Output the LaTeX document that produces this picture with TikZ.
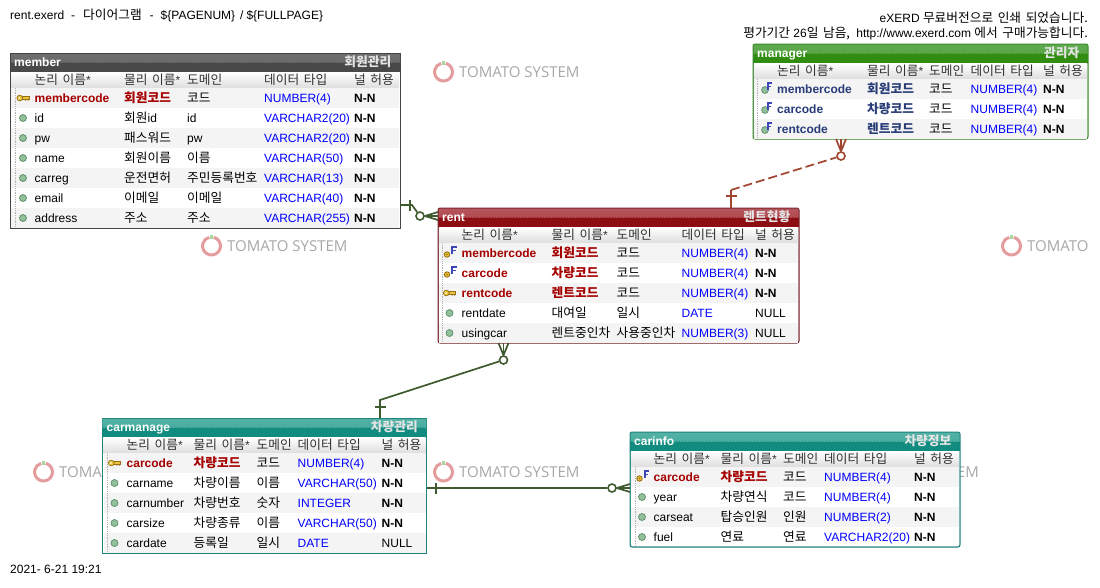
\documentclass[tikz,border=0pt]{standalone}
\usepackage{fontspec}
\setmainfont{Liberation Sans}
\newfontfamily\krfont[Scale=1.06,WordSpace=1.6]{Noto Sans CJK KR}
\newfontfamily\wmfont{Open Sans}
\usetikzlibrary{patterns}
\definecolor{memline}{RGB}{68, 68, 68}
\definecolor{memtop}{RGB}{112, 112, 112}
\definecolor{membot}{RGB}{70, 70, 70}
\definecolor{memhatch}{RGB}{80, 80, 80}
\definecolor{mgrline}{RGB}{60, 138, 46}
\definecolor{mgrtop}{RGB}{96, 170, 80}
\definecolor{mgrbot}{RGB}{44, 138, 12}
\definecolor{mgrhatch}{RGB}{60, 148, 30}
\definecolor{rntline}{RGB}{122, 42, 48}
\definecolor{rnttop}{RGB}{182, 86, 92}
\definecolor{rntbot}{RGB}{138, 8, 14}
\definecolor{rnthatch}{RGB}{150, 26, 32}
\definecolor{carline}{RGB}{30, 132, 124}
\definecolor{cartop}{RGB}{84, 178, 166}
\definecolor{carbot}{RGB}{12, 136, 124}
\definecolor{carhatch}{RGB}{32, 148, 136}
\definecolor{pkred}{RGB}{165, 0, 0}
\definecolor{fknavy}{RGB}{40, 60, 120}
\definecolor{headgray}{RGB}{50, 50, 50}
\definecolor{rowgray}{RGB}{244, 244, 244}
\definecolor{relgreen}{RGB}{64, 90, 48}
\definecolor{relbrown}{RGB}{160, 68, 46}
\definecolor{keygold}{RGB}{236, 196, 60}
\definecolor{keydark}{RGB}{150, 110, 20}
\definecolor{dotgreen}{RGB}{146, 192, 154}
\definecolor{dotdark}{RGB}{100, 146, 112}
\definecolor{fkblue}{RGB}{60, 70, 180}
\definecolor{wmring}{RGB}{228, 156, 156}
\definecolor{wmgreen}{RGB}{170, 214, 160}
\definecolor{wmtext}{RGB}{168, 168, 168}
\newcommand{\kr}[1]{{\krfont #1}}
\newcommand{\notnull}{\textbf{N-N}}
\tikzset{
    tablebox/.style={fill=white, line width=1pt, inner sep=0, outer sep=0, anchor=north west},
    erdtext/.style={font=\fontsize{12}{14}\selectfont, inner sep=0, anchor=base west},
    plainname/.style={erdtext},
    pkname/.style={erdtext, font=\fontsize{12}{14}\selectfont\bfseries, text=pkred},
    fkname/.style={erdtext, font=\fontsize{12}{14}\selectfont\bfseries, text=fknavy},
    headtext/.style={erdtext, text=headgray},
    typetext/.style={erdtext, text=blue},
    titletext/.style={erdtext, font=\fontsize{12}{14}\selectfont\bfseries, text=white},
    subtitle/.style={erdtext, anchor=base east, font=\fontsize{12}{14}\selectfont\bfseries, text=white!80!gray},
    wmarktext/.style={inner sep=0, anchor=west, font=\wmfont\fontsize{15}{18}\selectfont, text=wmtext},
    relline/.style={line width=1.7pt, relgreen},
    relweak/.style={line width=1.7pt, relbrown},
    relzero/.style={circle, fill=white, line width=1.6pt, minimum size=8pt, inner sep=0},
    relone/.style={rectangle, fill, minimum width=1.6pt, minimum height=11pt, inner sep=0},
}
% x and y are the pixels of the sheet, y runs downwards
\newcommand{\keyicon}[2]{
    \begin{scope}[shift={(#1,#2)}]
        \fill[keydark] (2,1) rectangle (3,2.6) (4.5,1) rectangle (5.5,2.6);
        \draw[keydark, fill=keygold, line width=.6pt] (-1,-1.5) rectangle (6,1.2);
        \draw[keydark, fill=keygold, line width=.7pt] (-3.2,0) ellipse (2.9 and 2.8);
        \fill[white] (-3.6,0) circle (.9);
    \end{scope}
}
\newcommand{\doticon}[2]{
    \draw[dotdark, fill=dotgreen, line width=.8pt] (#1,#2) circle (3.5);
}
\newcommand{\flag}{
    \draw[fkblue, line width=1.8pt] (2.6,1) -- (2.6,-5.8) -- (7,-5.8) (2.6,-2.6) -- (6,-2.6);
}
\newcommand{\fkicon}[2]{
    \begin{scope}[shift={(#1,#2)}]
        \draw[dotdark, fill=dotgreen, line width=.8pt] (0,1) circle (3.4);
        \flag
    \end{scope}
}
\newcommand{\pkfkicon}[2]{
    \begin{scope}[shift={(#1,#2)}]
        \draw[keydark, fill=keygold, line width=.9pt] (-2.5,1.5) circle (2.7);
        \fill[keydark] (-2.5,1.5) circle (.8);
        \flag
    \end{scope}
}
% name, left, top, right, bottom, colour prefix, title, subtitle, corner
\newcommand{\erdtable}[9]{
    \def\tabname{#1}
    \def\tableft{#2}
    \def\tabtop{#3}
    \def\tabright{#4}
    \def\tabbot{#5}
    \node[tablebox, draw=#6line, rounded corners=#9pt, minimum width=#4-#2, minimum height=#5-#3] (#1) at (#2,#3) {};
    \begin{scope}
        \clip[rounded corners=#9pt] (#1.north west) rectangle (#1.south east);
        \shade[top color=#6top, bottom color=#6top!85!#6bot] (#2,#3) rectangle (#4,#3+9.5);
        \fill[#6bot] (#2,#3+9.5) rectangle (#4,#3+19);
        \fill[pattern=north east lines, pattern color=#6hatch] (#2,#3+9.5) rectangle (#4,#3+19);
        \draw[#6line, line width=1pt, rounded corners=#9pt] (#1.north west) rectangle (#1.south east);
    \end{scope}
    \node[titletext] (#1-title) at (#2+4,#3+13.5) {#7};
    \node[subtitle] (#1-sub) at (#4-8.5,#3+13.5) {#8};
}
% name, icon x, dots x, then the five columns
\newcommand{\erdcols}[8]{
    \def\colicon{#2}
    \def\coldot{#3}
    \def\colA{#4}
    \def\colB{#5}
    \def\colC{#6}
    \def\colD{#7}
    \def\colE{#8}
    \shade[top color=white, bottom color=black!13] (\tableft+1,\tabtop+19) rectangle (\tabright-1,\tabtop+35);
    \node[headtext] (#1-hlog) at (#4,\tabtop+31.5) {\kr{논리 이름}*};
    \node[headtext] (#1-hphy) at (#5,\tabtop+31.5) {\kr{물리 이름}*};
    \node[headtext] (#1-hdom) at (#6,\tabtop+31.5) {\kr{도메인}};
    \node[headtext] (#1-htyp) at (#7,\tabtop+31.5) {\kr{데이터 타입}};
    \node[headtext] (#1-hnul) at (#8,\tabtop+31.5) {\kr{널 허용}};
}
% row number, icon, style, then the five cells
\newcommand{\erdrow}[8]{
    \pgfmathsetmacro{\rowtop}{\tabtop+35+20*(#1-1)}
    \ifodd#1
        \fill[rowgray] (\tableft+1,\rowtop) rectangle (\tabright-1,\rowtop+20);
    \fi
    \draw[black!30, densely dotted, line width=.8pt] (\coldot,\rowtop) -- (\coldot,\rowtop+19.5);
    #2{\colicon}{\rowtop+10}
    \node[#3] (\tabname-#1-log) at (\colA,\rowtop+14) {#4};
    \node[#3] (\tabname-#1-phy) at (\colB,\rowtop+14) {#5};
    \node[erdtext] (\tabname-#1-dom) at (\colC,\rowtop+14) {#6};
    \node[typetext] (\tabname-#1-typ) at (\colD,\rowtop+14) {#7};
    \node[erdtext] (\tabname-#1-nul) at (\colE,\rowtop+14) {#8};
}
% name, left, middle, text
\newcommand{\wmark}[4]{
    \draw[wmring, line width=3pt] (#2+10.5,#3) ++(-75:9) arc (-75:255:9);
    \fill[wmgreen] (#2+9,#3-11) rectangle (#2+12,#3-7.5);
    \node[wmarktext] (#1) at (#2+26,#3) {#4};
}
\begin{document}
\begin{tikzpicture}[x=1pt, y=-1pt]
    \useasboundingbox (0,0) rectangle (1100,587);
    \fill[white] (0,0) rectangle (1100,587);

    % watermarks
    \wmark{wmtop}{433}{72}{TOMATO SYSTEM}
    \wmark{wmleft}{201}{246}{TOMATO SYSTEM}
    \wmark{wmright}{1001}{246}{TOMATO}
    \wmark{wmlow}{33}{472}{TOMA}
    \wmark{wmmid}{433}{472}{TOMATO SYSTEM}
    \node[wmarktext, anchor=east] (wmend) at (979,472) {EM};

    \node[erdtext] (pagehead) at (10,19.5) {rent.exerd\hspace{7pt}-\hspace{8pt}\kr{다이어그램}\hspace{8pt}-\hspace{7pt}\$\{PAGENUM\}\hspace{5pt}/\hspace{3pt}\$\{FULLPAGE\}};
    \node[erdtext, anchor=base east] (notice) at (1088,22) {eXERD \kr{무료버전으로 인쇄 되었습니다.}};
    \node[erdtext, anchor=base east] (trial) at (1088,37) {\kr{평가기간} 26\kr{일 남음,}\hspace{3pt} http://www.exerd.com \kr{에서 구매가능합니다.}};
    \node[erdtext] (stamp) at (10,573) {2021- 6-21 19:21};

    % member
    \erdtable{member}{10}{53}{400}{228}{mem}{member}{\kr{회원관리}}{0}
    \erdcols{member}{23}{15.5}{34.5}{124}{187}{264}{354}
    \foreach \n/\ic/\st/\lg/\ph/\dm/\tp/\nl in {
        1/\keyicon/pkname/membercode/\kr{회원코드}/\kr{코드}/NUMBER(4)/\notnull,
        2/\doticon/plainname/id/\kr{회원}id/id/VARCHAR2(20)/\notnull,
        3/\doticon/plainname/pw/\kr{패스워드}/pw/VARCHAR2(20)/\notnull,
        4/\doticon/plainname/name/\kr{회원이름}/\kr{이름}/VARCHAR(50)/\notnull,
        5/\doticon/plainname/carreg/\kr{운전면허}/\kr{주민등록번호}/VARCHAR(13)/\notnull,
        6/\doticon/plainname/email/\kr{이메일}/\kr{이메일}/VARCHAR(40)/\notnull,
        7/\doticon/plainname/address/\kr{주소}/\kr{주소}/VARCHAR(255)/\notnull}
        {\erdrow{\n}{\ic}{\st}{\lg}{\ph}{\dm}{\tp}{\nl}}

    % manager
    \erdtable{manager}{753}{44}{1088}{139}{mgr}{manager}{\kr{관리자}}{2}
    \erdcols{manager}{765}{757.5}{777}{867}{929}{970.5}{1043}
    \foreach \n/\ic/\st/\lg/\ph/\dm/\tp/\nl in {
        1/\fkicon/fkname/membercode/\kr{회원코드}/\kr{코드}/NUMBER(4)/\notnull,
        2/\fkicon/fkname/carcode/\kr{차량코드}/\kr{코드}/NUMBER(4)/\notnull,
        3/\fkicon/fkname/rentcode/\kr{렌트코드}/\kr{코드}/NUMBER(4)/\notnull}
        {\erdrow{\n}{\ic}{\st}{\lg}{\ph}{\dm}{\tp}{\nl}}

    % rent
    \erdtable{rent}{438}{208}{799}{343}{rnt}{rent}{\kr{렌트현황}}{2}
    \erdcols{rent}{449.5}{442.5}{461.5}{551.5}{616.5}{681.5}{755}
    \foreach \n/\ic/\st/\lg/\ph/\dm/\tp/\nl in {
        1/\pkfkicon/pkname/membercode/\kr{회원코드}/\kr{코드}/NUMBER(4)/\notnull,
        2/\pkfkicon/pkname/carcode/\kr{차량코드}/\kr{코드}/NUMBER(4)/\notnull,
        3/\keyicon/pkname/rentcode/\kr{렌트코드}/\kr{코드}/NUMBER(4)/\notnull,
        4/\doticon/plainname/rentdate/\kr{대여일}/\kr{일시}/DATE/NULL,
        5/\doticon/plainname/usingcar/\kr{렌트중인차}/\kr{사용중인차}/NUMBER(3)/NULL}
        {\erdrow{\n}{\ic}{\st}{\lg}{\ph}{\dm}{\tp}{\nl}}

    % carmanage
    \erdtable{carmanage}{102.5}{418}{426.5}{553}{car}{carmanage}{\kr{차량관리}}{0}
    \erdcols{carmanage}{114.5}{107.5}{126.5}{193.5}{256.5}{297.5}{381.5}
    \foreach \n/\ic/\st/\lg/\ph/\dm/\tp/\nl in {
        1/\keyicon/pkname/carcode/\kr{차량코드}/\kr{코드}/NUMBER(4)/\notnull,
        2/\doticon/plainname/carname/\kr{차량이름}/\kr{이름}/VARCHAR(50)/\notnull,
        3/\doticon/plainname/carnumber/\kr{차량번호}/\kr{숫자}/INTEGER/\notnull,
        4/\doticon/plainname/carsize/\kr{차량종류}/\kr{이름}/VARCHAR(50)/\notnull,
        5/\doticon/plainname/cardate/\kr{등록일}/\kr{일시}/DATE/NULL}
        {\erdrow{\n}{\ic}{\st}{\lg}{\ph}{\dm}{\tp}{\nl}}

    % carinfo
    \erdtable{carinfo}{630}{432}{960}{547}{car}{carinfo}{\kr{차량정보}}{2}
    \erdcols{carinfo}{642}{635}{653.5}{720.5}{783}{824}{914}
    \foreach \n/\ic/\st/\lg/\ph/\dm/\tp/\nl in {
        1/\pkfkicon/pkname/carcode/\kr{차량코드}/\kr{코드}/NUMBER(4)/\notnull,
        2/\doticon/plainname/year/\kr{차량연식}/\kr{코드}/NUMBER(4)/\notnull,
        3/\doticon/plainname/carseat/\kr{탑승인원}/\kr{인원}/NUMBER(2)/\notnull,
        4/\doticon/plainname/fuel/\kr{연료}/\kr{연료}/VARCHAR2(20)/\notnull}
        {\erdrow{\n}{\ic}{\st}{\lg}{\ph}{\dm}{\tp}{\nl}}

    % member to rent
    \node[relzero, draw=relgreen] (rentzeroA) at (420,216) {};
    \node[relone, relgreen] (memberone) at (410,205) {};
    \coordinate (memberbend) at (412,205);
    \draw[relline] (member.east |- memberone) -- (memberbend) -- (rentzeroA);
    \draw[relline] (rentzeroA) -- (rent.west |- rentzeroA);
    \draw[relline] (rentzeroA.east) -- (rent.west |- 0,212);
    \draw[relline] (rentzeroA.east) -- (rent.west |- 0,220);

    % manager to rent
    \node[relzero, draw=relbrown] (mgrzero) at (841,156) {};
    \node[relone, relbrown, rotate=90] (rentone) at (731,196) {};
    \coordinate (rentbend) at (731,190);
    \draw[relweak] (rent.north -| rentbend) -- (rentbend);
    \draw[relweak, dash pattern=on 9pt off 4pt] (rentbend) -- (mgrzero);
    \draw[relweak] (mgrzero) -- (manager.south -| mgrzero);
    \draw[relweak] (mgrzero.north) -- (manager.south -| 836,0);
    \draw[relweak] (mgrzero.north) -- (manager.south -| 846,0);

    % rent to carmanage
    \node[relzero, draw=relgreen] (rentzeroB) at (503.5,360) {};
    \node[relone, relgreen, rotate=90] (carone) at (380,407) {};
    \coordinate (carbend) at (380,400);
    \draw[relline] (carmanage.north -| carbend) -- (carbend) -- (rentzeroB);
    \draw[relline] (rentzeroB) -- (rent.south -| rentzeroB);
    \draw[relline] (rentzeroB.north) -- (rent.south -| 498.5,0);
    \draw[relline] (rentzeroB.north) -- (rent.south -| 508.5,0);

    % carmanage to carinfo
    \node[relzero, draw=relgreen] (infozero) at (612,488) {};
    \node[relone, relgreen] (carmanone) at (436,488) {};
    \draw[relline] (carmanage.east |- infozero) -- (infozero);
    \draw[relline] (infozero) -- (carinfo.west |- infozero);
    \draw[relline] (infozero.east) -- (carinfo.west |- 0,484);
    \draw[relline] (infozero.east) -- (carinfo.west |- 0,492);
\end{tikzpicture}
\end{document}
